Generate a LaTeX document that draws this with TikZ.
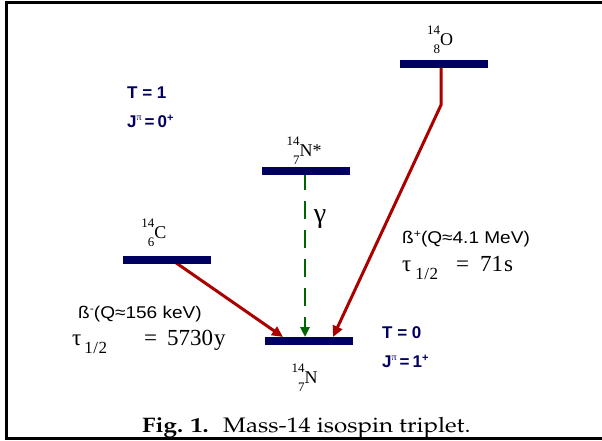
\documentclass[tikz,border=0pt]{standalone}
\usepackage[T1]{fontenc}
\usepackage{fontspec}
\setmainfont{Liberation Serif}
\newfontfamily\arialf{Liberation Sans}
\usetikzlibrary{arrows.meta}
\definecolor{navy}{RGB}{0,0,96}
\definecolor{decred}{RGB}{170,0,0}
\definecolor{gamgreen}{RGB}{0,100,0}
\newcommand{\isolab}[3]{{\fontsize{13}{13}\selectfont\raisebox{-8pt}{\begin{tabular}[b]{@{}r@{}}#1\\[6pt]#2\end{tabular}}}{\fontsize{18}{18}\selectfont #3}}
\newcommand{\halflife}[4]{{\fontsize{23}{23}\selectfont τ}\hspace{#1}\raisebox{-8pt}{\fontsize{17}{17}\selectfont 1\kern0.5pt/\kern0.5pt2}\hspace{#2}{\fontsize{23}{23}\selectfont =}\hspace{#3}{\fontsize{23}{23}\selectfont #4}}
\newcommand{\jpi}[1]{J\raisebox{7pt}{\normalfont\fontsize{10}{10}\selectfont π}\hspace{3pt}=\hspace{3pt}#1\raisebox{6pt}{\fontsize{11}{11}\selectfont +}}
\begin{document}
\begin{tikzpicture}[x=1pt,y=-1pt,
  every node/.style={inner sep=0pt},
  bar/.style={fill=navy, minimum width=88pt, minimum height=7.5pt},
  decay/.style={draw=decred, line width=3pt, -{Triangle[length=11pt,width=10pt]}},
  gammaline/.style={draw=gamgreen, line width=2.5pt, dash pattern=on 18pt off 11pt, -{Triangle[length=10pt,width=9pt]}},
  tlab/.style={anchor=base west, text=navy, font=\arialf\bfseries\fontsize{17}{19}\selectfont},
  qlab/.style={anchor=base west, font=\arialf\fontsize{17}{19}\selectfont},
  hlab/.style={anchor=base west},
  ilab/.style={anchor=base}]
\useasboundingbox (0,0) rectangle (602,440);
% frame
\draw[line width=3pt] (602,2.5) -- (6.5,2.5) -- (6.5,438.5) -- (602,438.5);
% transitions
\coordinate (cstart) at (172,260);
\coordinate (ctip) at (283,337);
\coordinate (ostart) at (441,64);
\coordinate (obend) at (441,105);
\coordinate (otip) at (333,337);
\coordinate (gstart) at (305,172);
\coordinate (gtip) at (305,337);
\draw[decay] (cstart) -- (ctip);
\draw[decay] (ostart) -- (obend) -- (otip);
\draw[gammaline] (gstart) -- (gtip);
% levels
\node[bar] (obar) at (444,64) {};
\node[bar] (nsbar) at (306,171) {};
\node[bar] (cbar) at (167,260) {};
\node[bar] (nbar) at (308.5,341) {};
% isotope labels
\node[ilab] (olab) at (440,45) {\isolab{14}{8}{O}};
\node[ilab] (nslab) at (304,156) {\isolab{14}{7}{N*}};
\node[ilab] (clab) at (154,238) {\isolab{14}{6}{C}};
\node[ilab] (nlab) at (304.5,383) {\isolab{14}{7}{N}};
% quantum numbers
\node[tlab] (t1) at (127,98) {T = 1};
\node[tlab] (j1) at (127,127) {\jpi{0}};
\node[tlab] (t0) at (382,338) {T = 0};
\node[tlab] (j0) at (382,367) {\jpi{1}};
% decay labels
\node[ilab, font=\fontsize{28}{28}\selectfont] (gam) at (320,222) {γ};
\node[qlab] (bp) at (402,243) {\scalebox{1.12}[1]{ß\raisebox{6pt}{\fontsize{11}{11}\selectfont +}(Q≈4.1 MeV)}};
\node[hlab] (tp) at (402,271) {\halflife{4pt}{18pt}{11pt}{71\kern1pt s}};
\node[qlab] (bm) at (78,318) {\scalebox{1.12}[1]{ß\raisebox{6pt}{\fontsize{11}{11}\selectfont -}(Q≈156 keV)}};
\node[hlab] (tm) at (72,345) {\halflife{3pt}{37pt}{10pt}{5730\kern1pt y}};
% caption
\node[anchor=base west] (cap) at (142,432) {\scalebox{1.15}[1]{\fontencoding{T1}\fontfamily{ppl}\fontsize{21}{23}\selectfont\textbf{Fig. 1.}\hspace{0.6em}Mass-14 isospin triplet.}};
\end{tikzpicture}
\end{document}
